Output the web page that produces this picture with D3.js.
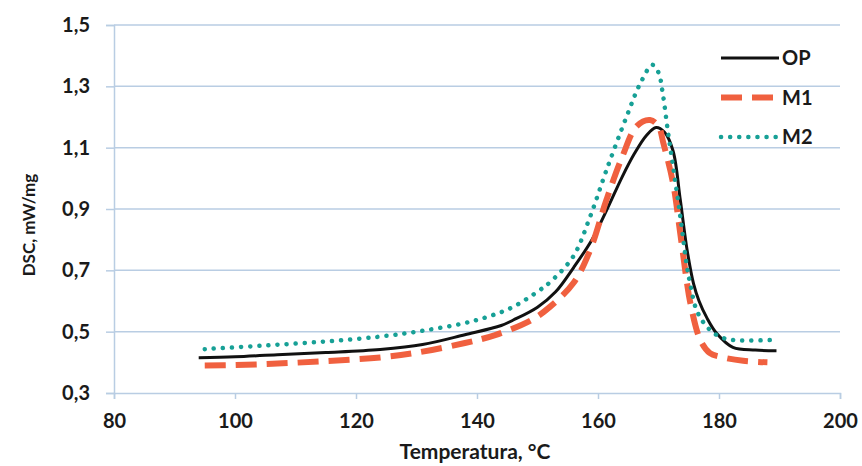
<!DOCTYPE html>
<html>
<head>
<meta charset="utf-8">
<script src="https://cdn.jsdelivr.net/npm/d3@7"></script>
<style>
  body { margin: 0; background: #fff; }
  text { font-family: Lato, "Open Sans", sans-serif; font-weight: bold; fill: #1a1a1a; }
</style>
</head>
<body>
<div id="chart"></div>
<script>
// data
const xTicks = [80, 100, 120, 140, 160, 180, 200];
const yTicks = [0.3, 0.5, 0.7, 0.9, 1.1, 1.3, 1.5];

const opT = [94, 100, 107, 115, 124, 131, 138, 144, 146, 150, 153, 156, 159, 161.4, 164, 166, 168, 169.6, 171, 172.4, 173.6, 174.7, 175.8, 176.7, 178, 179.6, 182.3, 186, 189.5];
const opV = [0.415, 0.418, 0.425, 0.432, 0.442, 0.458, 0.49, 0.52, 0.538, 0.58, 0.63, 0.71, 0.80, 0.895, 1.005, 1.08, 1.14, 1.166, 1.15, 1.09, 0.93, 0.77, 0.656, 0.60, 0.545, 0.495, 0.449, 0.44, 0.438];

const m1T = [95, 100, 107, 115, 124, 131, 138, 143, 149, 152, 156, 158.7, 161.4, 164, 166.4, 168.6, 170, 170.8, 172.4, 173.6, 174.7, 175.2, 176.9, 178.5, 180.2, 184, 188];
const m1V = [0.39, 0.391, 0.396, 0.404, 0.416, 0.435, 0.463, 0.489, 0.538, 0.58, 0.66, 0.766, 0.93, 1.07, 1.17, 1.19, 1.17, 1.115, 0.985, 0.82, 0.66, 0.60, 0.473, 0.43, 0.418, 0.405, 0.40];

const m2T = [95, 105, 115, 124, 131, 137.7, 142, 146, 150.4, 152, 155.9, 158.7, 161.4, 164.7, 167, 169, 170, 170.7, 171.6, 172.4, 173.6, 174.7, 175.2, 176.3, 178, 180, 182.3, 189];
const m2V = [0.443, 0.455, 0.468, 0.484, 0.503, 0.527, 0.55, 0.581, 0.636, 0.66, 0.745, 0.875, 1.027, 1.2, 1.31, 1.37, 1.345, 1.277, 1.146, 1.04, 0.875, 0.712, 0.66, 0.57, 0.516, 0.485, 0.473, 0.473];

const series = [
    { name: "OP", t: opT, v: opV, color: "#111111", width: 3, dash: null, cap: "butt" },
    { name: "M1", t: m1T, v: m1V, color: "#f0603f", width: 6, dash: "21 10", cap: "butt" },
    { name: "M2", t: m2T, v: m2V, color: "#17a096", width: 4.5, dash: "0.1 9", cap: "round" }
];

const svg = d3.select("#chart")
    .append("svg")
    .attr("width", 862)
    .attr("height", 466);

const gridColor = "#b9cde3";

const x = d3.scaleLinear().domain([80, 200]).range([114, 840]);
const y = d3.scaleLinear().domain([0.3, 1.5]).range([393, 25]);

// horizontal grid
svg.append("g")
    .selectAll("line")
    .data(yTicks.slice(1))
    .enter().append("line")
    .attr("x1", x(80)).attr("x2", x(200))
    .attr("y1", d => y(d)).attr("y2", d => y(d))
    .attr("stroke", gridColor)
    .attr("stroke-width", 1.5);

// X axis
const xAxis = svg.append("g")
    .attr("transform", "translate(0," + y(0.3) + ")")
    .call(d3.axisBottom(x).tickValues(xTicks).tickSize(6).tickPadding(15).tickFormat(d3.format("d")));
xAxis.select(".domain").attr("stroke", gridColor).attr("stroke-width", 1.5);
xAxis.selectAll(".tick line").attr("stroke", gridColor).attr("stroke-width", 1.5);
xAxis.selectAll("text").style("font-size", "20px").attr("fill", "#1a1a1a");

// Y axis
const yAxis = svg.append("g")
    .attr("transform", "translate(" + x(80) + ",0)")
    .call(d3.axisLeft(y).tickValues(yTicks).tickSize(8).tickPadding(16)
        .tickFormat(d => d3.format(".1f")(d).replace(".", ",")));
yAxis.select(".domain").attr("stroke", gridColor).attr("stroke-width", 1.5);
yAxis.selectAll(".tick line").attr("stroke", gridColor).attr("stroke-width", 1.5);
yAxis.selectAll("text").style("font-size", "20px").attr("fill", "#1a1a1a");

// axis titles
svg.append("text")
    .attr("x", 475).attr("y", 459)
    .attr("text-anchor", "middle")
    .style("font-size", "21px")
    .text("Temperatura, °C");

svg.append("text")
    .attr("transform", "translate(35,225) rotate(-90)")
    .attr("text-anchor", "middle")
    .style("font-size", "17px")
    .text("DSC, mW/mg");

// curves
const line = d3.line()
    .x(d => x(d[0]))
    .y(d => y(d[1]))
    .curve(d3.curveCatmullRom.alpha(0.5));

svg.append("g")
    .selectAll("path")
    .data(series)
    .enter().append("path")
    .attr("d", s => line(s.t.map((t, i) => [t, s.v[i]])))
    .attr("fill", "none")
    .attr("stroke", s => s.color)
    .attr("stroke-width", s => s.width)
    .attr("stroke-dasharray", s => s.dash)
    .attr("stroke-linecap", s => s.cap);

// legend
const legend = svg.selectAll(".legend")
    .data(series)
    .enter().append("g")
    .attr("class", "legend")
    .attr("transform", (d, i) => "translate(0," + (58 + i * 39.5) + ")");

legend.append("line")
    .attr("x1", 721).attr("x2", 779)
    .attr("y1", 0).attr("y2", 0)
    .attr("stroke", d => d.color)
    .attr("stroke-width", d => d.width)
    .attr("stroke-dasharray", d => d.dash)
    .attr("stroke-linecap", d => d.cap);

legend.append("text")
    .attr("x", 782)
    .attr("y", 0)
    .attr("dy", ".35em")
    .style("font-size", "20px")
    .text(d => d.name);
</script>
</body>
</html>
